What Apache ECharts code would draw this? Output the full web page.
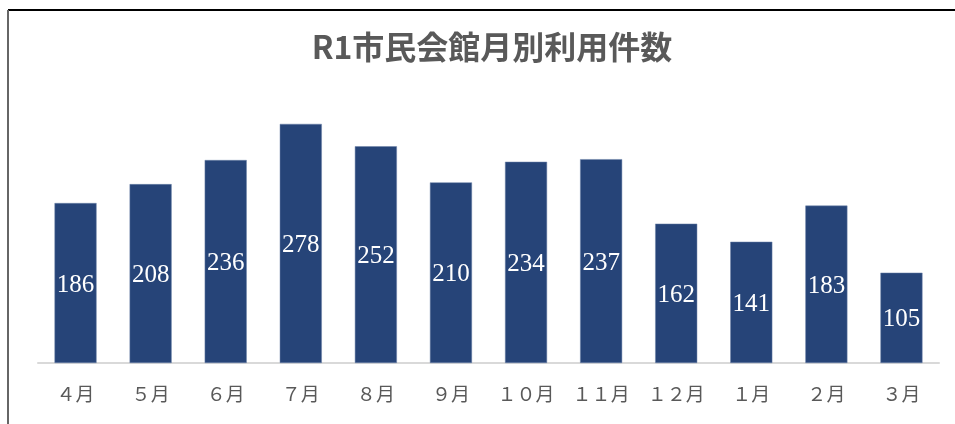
<!DOCTYPE html>
<html>
<head>
<meta charset="utf-8">
<script src="https://cdn.jsdelivr.net/npm/echarts@6/dist/echarts.min.js"></script>
<style>
  html, body { margin: 0; padding: 0; background: #fff; }
  #chart { width: 955px; height: 424px; }
</style>
</head>
<body>
<div id="chart"></div>
<script>
// 月別利用件数
var months = ['４月', '５月', '６月', '７月', '８月', '９月', '１０月', '１１月', '１２月', '１月', '２月', '３月'];
var counts = [186, 208, 236, 278, 252, 210, 234, 237, 162, 141, 183, 105];
var titleText = 'R1市民会館月別利用件数';

var myChart = echarts.init(document.getElementById('chart'));
var option = {
    backgroundColor: '#fff',
    animation: false,
    title: {
        text: titleText,
        left: 487,
        textAlign: 'center',
        top: 26,
        textStyle: {
            color: '#595959',
            fontSize: 32,
            fontWeight: 'bold',
            fontFamily: 'Noto Sans CJK JP'
        }
    },
    graphic: [
        { type: 'line', shape: { x1: 8, y1: 10, x2: 955, y2: 10 }, style: { stroke: '#000', lineWidth: 2 } },
        { type: 'line', shape: { x1: 8, y1: 10, x2: 8, y2: 424 }, style: { stroke: '#666', lineWidth: 2 } }
    ],
    grid: {
        left: 38,
        right: 16,
        top: 105,
        bottom: 61
    },
    xAxis: {
        type: 'category',
        data: months,
        axisLine: { lineStyle: { color: '#d9d9d9', width: 2 } },
        axisTick: { show: false },
        axisLabel: {
            color: '#595959',
            fontSize: 19,
            margin: 24,
            fontFamily: 'Liberation Serif, Noto Sans CJK JP'
        }
    },
    yAxis: {
        type: 'value',
        min: 0,
        max: 300,
        show: false
    },
    series: [
        {
            type: 'bar',
            data: counts,
            barWidth: '56%',
            itemStyle: {
                color: '#264478',
                borderColor: '#6d82a8',
                borderWidth: 0.5
            },
            label: {
                show: true,
                position: 'inside',
                offset: [0, 2],
                color: '#fff',
                fontSize: 25,
                fontFamily: 'Liberation Serif, DejaVu Serif, serif'
            }
        }
    ]
};
myChart.setOption(option);
</script>
</body>
</html>
